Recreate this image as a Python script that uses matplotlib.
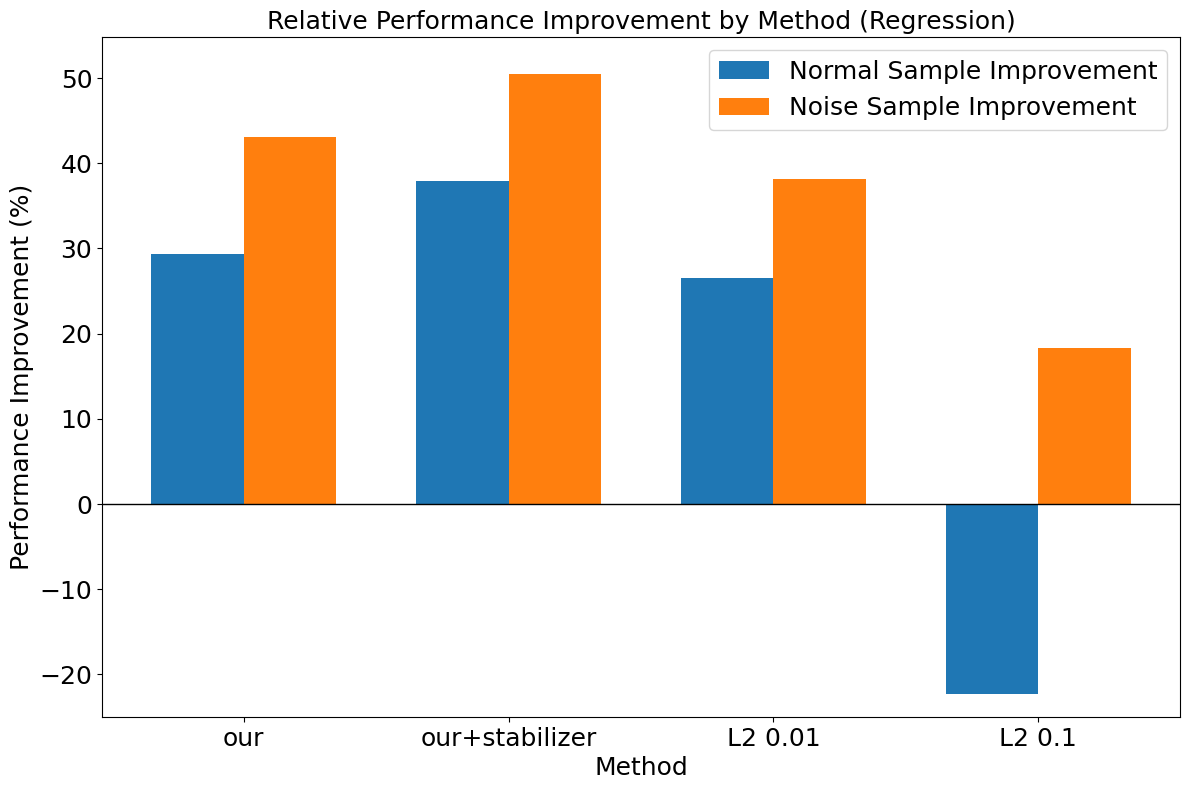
import numpy as np
import matplotlib.pyplot as plt

methods = ["our", "our+stabilizer", "L2 0.01", "L2 0.1"]
normal_improvement = [29.3, 37.9, 26.5, -22.3]
noise_improvement = [43.1, 50.5, 38.1, 18.3]


def main():
    fig, ax = plt.subplots(figsize=(11.89, 7.9), dpi=100)
    x = np.arange(len(methods))
    width = 0.35

    ax.bar(x - width / 2, normal_improvement, width, label="Normal Sample Improvement")
    ax.bar(x + width / 2, noise_improvement, width, label="Noise Sample Improvement")
    ax.axhline(0, color="black", linewidth=1)

    ax.set_xticks(x)
    ax.set_xticklabels(methods)
    ax.set_ylim(-25, 54.8)
    ax.tick_params(labelsize=18)
    ax.set_xlabel("Method", fontsize=18)
    ax.set_ylabel("Performance Improvement (%)", fontsize=18)
    ax.set_title("Relative Performance Improvement by Method (Regression)", fontsize=18)
    ax.legend(loc="upper right", fontsize=18)

    fig.subplots_adjust(left=0.0858, right=0.9924, top=0.953, bottom=0.0924)
    fig.savefig("out.png", dpi=100)


if __name__ == '__main__':
    main()
